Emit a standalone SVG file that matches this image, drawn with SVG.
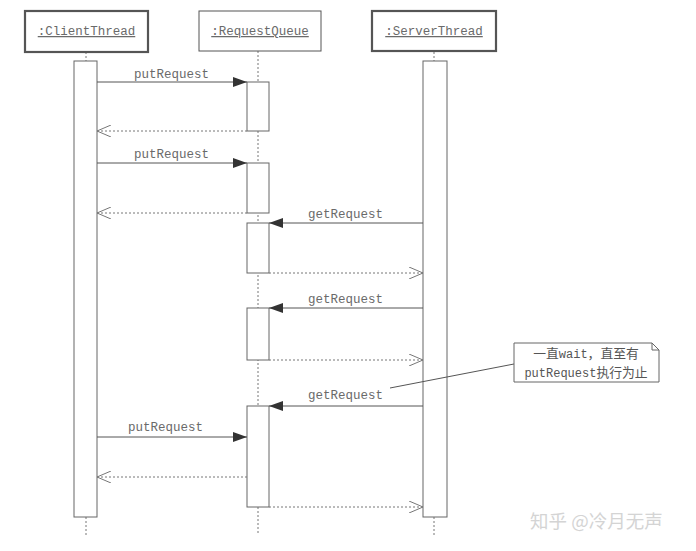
<svg xmlns="http://www.w3.org/2000/svg" width="696" height="551" viewBox="0 0 696 551">
<defs>
<style>
.lbl{font-family:"Liberation Mono","Noto Sans CJK SC",monospace;font-size:12.5px;fill:#6a6a6a}
.nt{font-family:"Liberation Mono","Noto Sans CJK SC",monospace;font-size:12px;fill:#555}
.cjk{font-family:"Noto Sans CJK SC",sans-serif;font-size:12.8px}
.box{fill:#fff;stroke:#555}
.thick{stroke-width:2.2}
.thin{stroke-width:1}
.life{stroke:#777;stroke-width:1;stroke-dasharray:2,2;fill:none}
.act{fill:#fff;stroke:#666;stroke-width:1}
.msg{stroke:#555;stroke-width:1;fill:none}
.ret{stroke:#777;stroke-width:1;stroke-dasharray:2,2;fill:none}
</style>
<marker id="filled" markerWidth="14" markerHeight="10" refX="14" refY="5" orient="auto" markerUnits="userSpaceOnUse">
<path d="M0,0 L14,5 L0,10 Z" fill="#333"/>
</marker>
<marker id="open" markerWidth="14" markerHeight="12" refX="14" refY="6" orient="auto" markerUnits="userSpaceOnUse">
<path d="M0,0 L14,6 L0,12" fill="none" stroke="#777" stroke-width="1"/>
</marker>
</defs>
<rect width="696" height="551" fill="#fff"/>

<g id="lifelines">
<line class="life" x1="86" y1="52" x2="86" y2="61"/>
<line class="life" x1="86" y1="517" x2="86" y2="535"/>
<line class="life" x1="258" y1="51" x2="258" y2="535"/>
<line class="life" x1="434" y1="52" x2="434" y2="61"/>
<line class="life" x1="434" y1="517" x2="434" y2="535"/>
</g>

<g id="ClientThread">
<rect class="box thick" x="25" y="11" width="123" height="41"/>
<text class="lbl" x="86.5" y="35" text-anchor="middle" text-decoration="underline">:ClientThread</text>
<rect class="act" x="74" y="61" width="23" height="456"/>
</g>

<g id="RequestQueue">
<rect class="box thin" x="199" y="11" width="122" height="40"/>
<text class="lbl" x="260" y="35" text-anchor="middle" text-decoration="underline">:RequestQueue</text>
<rect class="act" x="247" y="82" width="22" height="49"/>
<rect class="act" x="247" y="163" width="22" height="50"/>
<rect class="act" x="247" y="223" width="22" height="50"/>
<rect class="act" x="247" y="308" width="22" height="52"/>
<rect class="act" x="247" y="406" width="22" height="101"/>
</g>

<g id="ServerThread">
<rect class="box thick" x="372" y="11" width="124" height="40"/>
<text class="lbl" x="434" y="35" text-anchor="middle" text-decoration="underline">:ServerThread</text>
<rect class="act" x="423" y="61" width="24" height="456"/>
</g>

<g id="connectors">
<line class="msg" x1="97" y1="82" x2="247" y2="82" marker-end="url(#filled)"/>
<line class="ret" x1="247" y1="131" x2="97" y2="131" marker-end="url(#open)"/>
<line class="msg" x1="97" y1="163" x2="247" y2="163" marker-end="url(#filled)"/>
<line class="ret" x1="247" y1="213" x2="97" y2="213" marker-end="url(#open)"/>
<line class="msg" x1="423" y1="223" x2="269" y2="223" marker-end="url(#filled)"/>
<line class="ret" x1="269" y1="273" x2="423" y2="273" marker-end="url(#open)"/>
<line class="msg" x1="423" y1="308" x2="269" y2="308" marker-end="url(#filled)"/>
<line class="ret" x1="269" y1="360" x2="423" y2="360" marker-end="url(#open)"/>
<line class="msg" x1="423" y1="406" x2="269" y2="406" marker-end="url(#filled)"/>
<line class="msg" x1="97" y1="437" x2="247" y2="437" marker-end="url(#filled)"/>
<line class="ret" x1="247" y1="477" x2="97" y2="477" marker-end="url(#open)"/>
<line class="ret" x1="269" y1="507" x2="423" y2="507" marker-end="url(#open)"/>
<line class="msg" x1="390" y1="388" x2="514" y2="364"/>
</g>

<g id="labels">
<text class="lbl" x="134" y="78">putRequest</text>
<text class="lbl" x="134" y="158">putRequest</text>
<text class="lbl" x="308" y="218">getRequest</text>
<text class="lbl" x="308" y="303">getRequest</text>
<text class="lbl" x="308" y="399">getRequest</text>
<text class="lbl" x="128" y="431">putRequest</text>
</g>

<g id="note">
<path d="M514,343 L652,343 L659,350 L659,382 L514,382 Z" fill="#fff" stroke="#666" stroke-width="1"/>
<path d="M652,343 L652,350 L659,350" fill="none" stroke="#666" stroke-width="1"/>
<text class="nt" x="586" y="357.5" text-anchor="middle"><tspan class="cjk">一直</tspan>wait<tspan class="cjk">，直至有</tspan></text>
<text class="nt" x="586" y="376.5" text-anchor="middle">putRequest<tspan class="cjk">执行为止</tspan></text>
</g>

<text x="530" y="528" font-family="'Noto Sans CJK SC',sans-serif" font-size="18.5" fill="#d4d4d4">知乎 @冷月无声</text>
</svg>
